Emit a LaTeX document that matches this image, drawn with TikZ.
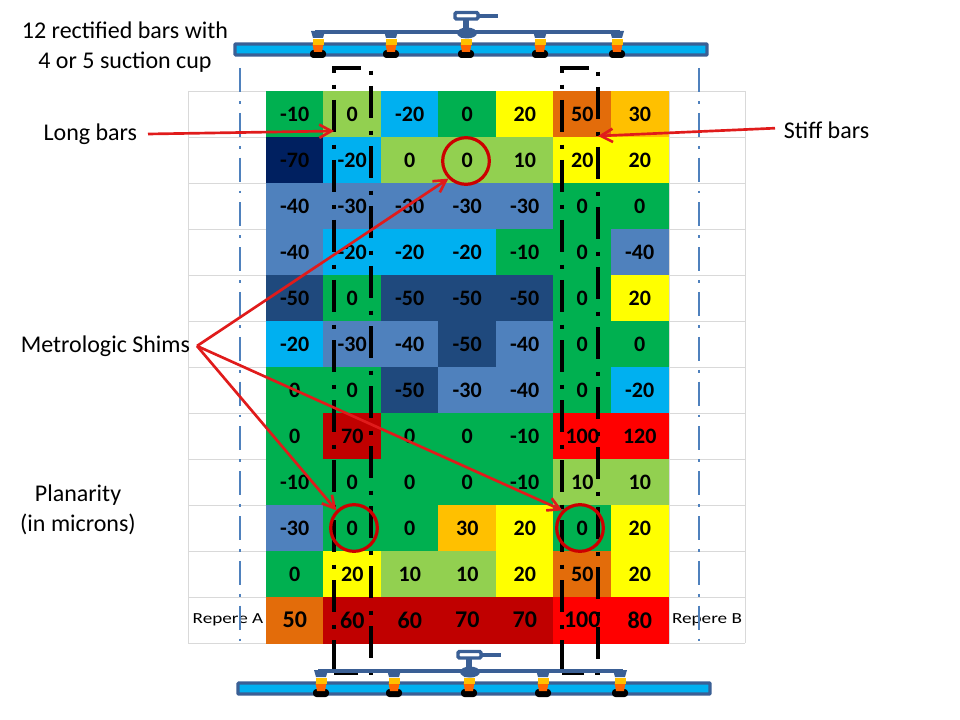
\documentclass[tikz,border=0pt]{standalone}
\usepackage{fontspec}
\setmainfont{Carlito}
\newfontfamily\widefont[FakeStretch=1.25]{Carlito}
\usetikzlibrary{calc, positioning, arrows.meta}
\definecolor{cgreen}{HTML}{00B050}
\definecolor{clime}{HTML}{92D050}
\definecolor{ccyan}{HTML}{00B0F0}
\definecolor{cyell}{HTML}{FFFF00}
\definecolor{corng}{HTML}{E36C0A}
\definecolor{camb}{HTML}{FFC000}
\definecolor{cnavy}{HTML}{002060}
\definecolor{cblue}{HTML}{4F81BD}
\definecolor{cdblue}{HTML}{1F497D}
\definecolor{cred}{HTML}{FF0000}
\definecolor{cdred}{HTML}{C00000}
\definecolor{steel}{HTML}{3A5F95}
\definecolor{arrowred}{HTML}{E01B1B}
\definecolor{gridgray}{HTML}{D9D9D9}
\tikzset{
    cell/.style={inner sep=0, outer sep=0, minimum width=43.1pt, minimum height=34.5pt, line width=0.4pt, text=black, font=\fontsize{16.5}{16.5}\selectfont\bfseries},
    label/.style={align=center, inner sep=0, font=\fontsize{18}{22.5}\selectfont},
    repere/.style={inner sep=0, font=\widefont\fontsize{11.5}{11.5}\selectfont},
    shim/.style={circle, draw=red!80!black, line width=2.4pt, minimum size=35pt, inner sep=0},
    pointer/.style={draw=arrowred, line width=2pt, -{Straight Barb[length=9pt, width=10pt, line width=2pt]}},
    barline/.style={line width=2.7pt, line cap=butt, dash pattern=on 24pt off 9.5pt on 3pt off 8.5pt},
    refline/.style={draw=cblue, line width=2.1pt, dash pattern=on 18pt off 6.8pt on 2pt off 6.8pt},
    gripper/.pic={
        % bar
        \draw [steel, fill=ccyan, line width=2.3pt, rounded corners=0.5pt] (235,44) rectangle (707,55);
        % suction cups
        \foreach \cx in {318,391,466,540,617} {
            \fill [black, rounded corners=2.5pt] (\cx-8,50) rectangle (\cx+8,58);
            \fill [orange!80!red] (\cx-5.5,44) -- (\cx+5.5,44) -- (\cx+4,52) -- (\cx-4,52) -- cycle;
            \fill [camb] (\cx-5.5,39) rectangle (\cx+5.5,45);
            \fill [steel] (\cx-7,31) -- (\cx+7,31) -- (\cx+5,38) -- (\cx-5,38) -- cycle;
        }
        % rail and handle
        \draw [steel, line width=3.5pt] (315,32) -- (620,32);
        \fill [steel] (467,33) ellipse (10 and 5.5);
        \draw [steel, line width=4pt] (466,32) -- (466,20);
        \draw [steel, fill=white, line width=2.6pt, rounded corners=1pt] (455,12.5) rectangle (478,19);
        \draw [steel, line width=2.7pt] (479,16) -- (498,16);
    },
}

\begin{document}
\begin{tikzpicture}[x=0.75pt, y=-0.75pt]
    \useasboundingbox (0,0) rectangle (960,720);

    % Grid
    \foreach \r in {0,...,12} {
        \draw [gridgray, line width=0.6pt] (188,91+46*\r) -- (745,91+46*\r);
    }
    \foreach \c in {188,266,669,745} {
        \draw [gridgray, line width=0.6pt] (\c,91) -- (\c,643);
    }

    % Cells
    \foreach \cells [count=\r] in {
        {-10/cgreen,0/clime,-20/ccyan,0/cgreen,20/cyell,50/corng,30/camb},
        {-70/cnavy,-20/ccyan,0/clime,0/clime,10/clime,20/cyell,20/cyell},
        {-40/cblue,-30/cblue,-30/cblue,-30/cblue,-30/cblue,0/cgreen,0/cgreen},
        {-40/cblue,-20/ccyan,-20/ccyan,-20/ccyan,-10/cgreen,0/cgreen,-40/cblue},
        {-50/cdblue,0/cgreen,-50/cdblue,-50/cdblue,-50/cdblue,0/cgreen,20/cyell},
        {-20/ccyan,-30/cblue,-40/cblue,-50/cdblue,-40/cblue,0/cgreen,0/cgreen},
        {0/cgreen,0/cgreen,-50/cdblue,-30/cblue,-40/cblue,0/cgreen,-20/ccyan},
        {0/cgreen,70/cdred,0/cgreen,0/cgreen,-10/cgreen,100/cred,120/cred},
        {-10/cgreen,0/cgreen,0/cgreen,0/cgreen,-10/cgreen,10/clime,10/clime},
        {-30/cblue,0/cgreen,0/cgreen,30/camb,20/cyell,0/cgreen,20/cyell},
        {0/cgreen,20/cyell,10/clime,10/clime,20/cyell,50/corng,20/cyell},
        {50/corng,60/cdred,60/cdred,70/cdred,70/cdred,100/cred,80/cred}} {
        \foreach \val/\clr [count=\c] in \cells {
            \node (c\r-\c) [cell, draw=\clr, fill=\clr] at ({266+57.5*(\c-0.5)},{91+46*(\r-0.5)}) {\ifnum\r=12 \fontsize{18}{18}\selectfont\fi\val};
        }
    }
    \node (repA) [repere] at (228,620) {Repere A};
    \node (repB) [repere] at (707,620) {Repere B};

    % Reference lines
    \foreach \x in {240,699} {
        \draw [refline] (\x,68) -- (\x,644);
    }

    % Rectified bars
    \foreach \xa/\xb in {334/371,562/598} {
        \draw [barline] (\xa,73) -- (\xa,68) -- (\xb,68) -- (\xb,673) -- (\xa,673);
        \draw [barline, dash phase=30pt] (\xa,80) -- (\xa,673);
    }

    % Grippers
    \pic at (0,0) {gripper};
    \pic at (3,639) {gripper};

    % Labels
    \node (title) [label] at (125,47.5) {12 rectified bars with\\4 or 5 suction cup};
    \node (long) [label, anchor=east, inner sep=8pt] at (148,134) {Long bars};
    \node (stiff) [label, anchor=west, inner sep=6.5pt] at (775,130) {Stiff bars};
    \node (metro) [label, anchor=east, inner sep=5pt] at (197,346) {Metrologic Shims};
    \node (plan) [label] at (78,510) {Planarity\\(in microns)};

    % Shims
    \node (shimA) [shim] at (466,161) {};
    \node (shimB) [shim] at (354,528) {};
    \node (shimC) [shim] at (580,528) {};

    % Connectors
    \coordinate (longEnd) at (334,131);
    \coordinate (stiffEnd) at (598,136);
    \draw [pointer] (long.east) -- (longEnd);
    \draw [pointer] (stiff.178) -- (stiffEnd);
    \draw [pointer] (metro.east) -- (shimA.225);
    \draw [pointer] (metro.east) -- (shimB.135);
    \draw [pointer] (metro.east) -- (shimC.135);

\end{tikzpicture}
\end{document}
